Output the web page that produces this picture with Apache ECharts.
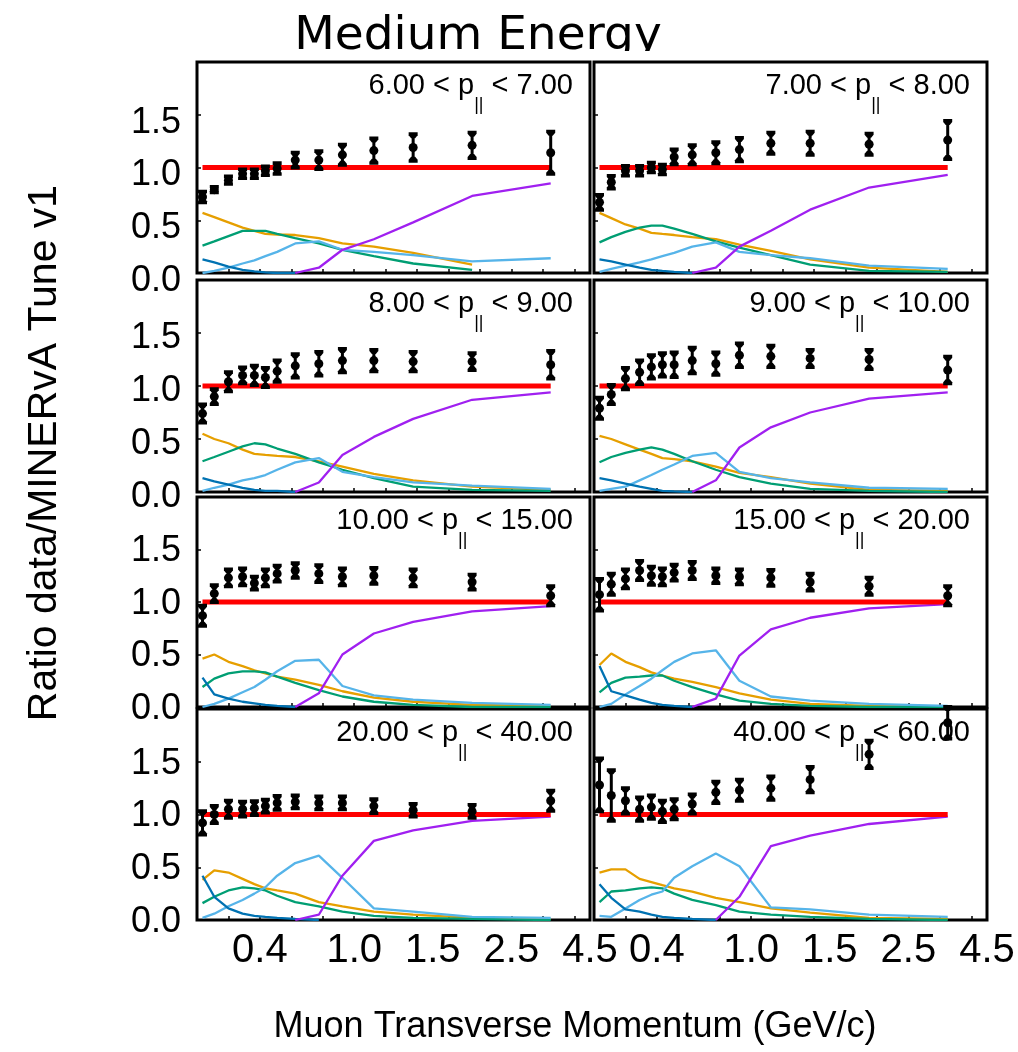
<!DOCTYPE html>
<html>
<head>
<meta charset="utf-8">
<script src="https://cdn.jsdelivr.net/npm/echarts@6/dist/echarts.min.js"></script>
<style>
  html, body { margin: 0; padding: 0; background: #fff; }
  #main { width: 1018px; height: 1052px; }
</style>
</head>
<body>
<div id="main"></div>
<script>
// bin edges as drawn on the axis (1.5-2.5 and 2.5-4.5 GeV/c bins are squeezed)
var axisEdges = [0, 0.07, 0.15, 0.25, 0.33, 0.4, 0.47, 0.55, 0.7, 0.85, 1.0, 1.25, 1.5, 2.0, 2.5];
var xTickPos = [0.4, 1.0, 1.5, 2.0, 2.5];
var xTickText = ['0.4', '1.0', '1.5', '2.5', '4.5'];
var panelRanges = [[6, 7], [7, 8], [8, 9], [9, 10], [10, 15], [15, 20], [20, 40], [40, 60]];

// data / MINERvA Tune v1
var ratioVal = [
  [0.72, 0.79, 0.88, 0.94, 0.94, 0.97, 0.99, 1.07, 1.07, 1.12, 1.16, 1.19, 1.21, 1.14],
  [0.67, 0.86, 0.97, 0.97, 1.00, 0.98, 1.10, 1.12, 1.14, 1.17, 1.23, 1.23, 1.22, 1.26],
  [0.74, 0.90, 1.04, 1.10, 1.10, 1.08, 1.14, 1.19, 1.21, 1.24, 1.24, 1.23, 1.23, 1.20],
  [0.79, 0.92, 1.07, 1.13, 1.18, 1.20, 1.20, 1.24, 1.21, 1.29, 1.28, 1.26, 1.25, 1.15],
  [0.87, 1.08, 1.23, 1.24, 1.18, 1.23, 1.27, 1.30, 1.27, 1.24, 1.25, 1.23, 1.19, 1.06],
  [1.07, 1.17, 1.22, 1.30, 1.25, 1.24, 1.28, 1.30, 1.25, 1.24, 1.23, 1.19, 1.15, 1.06],
  [0.92, 1.00, 1.05, 1.05, 1.06, 1.08, 1.11, 1.12, 1.11, 1.11, 1.08, 1.04, 1.03, 1.13],
  [1.28, 1.18, 1.13, 1.05, 1.07, 1.03, 1.05, 1.10, 1.21, 1.23, 1.25, 1.33, 1.57, 1.87]
];
var ratioErr = [
  [0.05, 0.025, 0.035, 0.04, 0.04, 0.04, 0.05, 0.07, 0.085, 0.095, 0.115, 0.125, 0.12, 0.20],
  [0.07, 0.06, 0.045, 0.045, 0.045, 0.045, 0.07, 0.09, 0.10, 0.11, 0.10, 0.11, 0.10, 0.18],
  [0.085, 0.07, 0.09, 0.075, 0.09, 0.09, 0.10, 0.11, 0.11, 0.11, 0.10, 0.09, 0.08, 0.13],
  [0.10, 0.09, 0.10, 0.11, 0.11, 0.11, 0.115, 0.12, 0.105, 0.11, 0.10, 0.08, 0.09, 0.125],
  [0.095, 0.08, 0.08, 0.08, 0.06, 0.08, 0.075, 0.07, 0.08, 0.08, 0.075, 0.08, 0.07, 0.09],
  [0.15, 0.10, 0.09, 0.09, 0.085, 0.08, 0.075, 0.08, 0.07, 0.07, 0.075, 0.08, 0.08, 0.09],
  [0.11, 0.08, 0.08, 0.07, 0.065, 0.06, 0.065, 0.06, 0.06, 0.06, 0.065, 0.06, 0.06, 0.095],
  [0.25, 0.24, 0.12, 0.11, 0.11, 0.10, 0.095, 0.09, 0.10, 0.10, 0.11, 0.12, 0.13, 0.15]
];

// model component fractions, one row per panel
var orangeFrac = [
  [0.57, 0.53, 0.48, 0.43, 0.40, 0.37, 0.365, 0.36, 0.33, 0.28, 0.25, 0.19, 0.08, null],
  [0.57, 0.52, 0.46, 0.42, 0.38, 0.37, 0.36, 0.34, 0.32, 0.27, 0.21, 0.13, 0.05, 0.01],
  [0.55, 0.50, 0.46, 0.40, 0.36, 0.35, 0.34, 0.33, 0.29, 0.24, 0.17, 0.11, 0.05, 0.02],
  [0.53, 0.50, 0.45, 0.40, 0.36, 0.32, 0.31, 0.29, 0.24, 0.18, 0.14, 0.08, 0.02, 0.01],
  [0.46, 0.50, 0.43, 0.39, 0.35, 0.32, 0.29, 0.26, 0.21, 0.15, 0.09, 0.05, 0.02, 0.01],
  [0.40, 0.51, 0.43, 0.38, 0.33, 0.30, 0.27, 0.24, 0.19, 0.13, 0.07, 0.03, 0.01, 0.00],
  [0.38, 0.47, 0.45, 0.39, 0.34, 0.30, 0.28, 0.25, 0.17, 0.13, 0.08, 0.05, 0.02, 0.01],
  [0.45, 0.48, 0.48, 0.39, 0.36, 0.33, 0.30, 0.27, 0.21, 0.17, 0.11, 0.07, 0.02, 0.01]
];
var greenFrac = [
  [0.26, 0.30, 0.35, 0.40, 0.40, 0.40, 0.37, 0.33, 0.28, 0.22, 0.16, 0.09, 0.03, null],
  [0.29, 0.34, 0.39, 0.43, 0.45, 0.45, 0.42, 0.37, 0.30, 0.24, 0.17, 0.08, 0.02, 0.01],
  [0.29, 0.33, 0.38, 0.43, 0.46, 0.45, 0.41, 0.36, 0.28, 0.21, 0.13, 0.05, 0.02, 0.01],
  [0.28, 0.33, 0.37, 0.40, 0.42, 0.40, 0.36, 0.29, 0.21, 0.14, 0.08, 0.03, 0.01, 0.00],
  [0.19, 0.27, 0.32, 0.34, 0.34, 0.33, 0.29, 0.23, 0.16, 0.10, 0.05, 0.02, 0.00, 0.00],
  [0.14, 0.23, 0.28, 0.29, 0.30, 0.30, 0.25, 0.19, 0.12, 0.06, 0.03, 0.01, 0.00, 0.00],
  [0.16, 0.22, 0.28, 0.31, 0.30, 0.28, 0.23, 0.17, 0.13, 0.08, 0.04, 0.02, 0.01, 0.00],
  [0.17, 0.27, 0.28, 0.30, 0.31, 0.30, 0.25, 0.19, 0.14, 0.08, 0.05, 0.03, 0.01, 0.00]
];
var skyFrac = [
  [0.00, 0.02, 0.05, 0.09, 0.12, 0.16, 0.20, 0.28, 0.30, 0.22, 0.20, 0.17, 0.11, 0.14],
  [0.01, 0.04, 0.07, 0.10, 0.13, 0.16, 0.19, 0.25, 0.29, 0.20, 0.17, 0.14, 0.07, 0.04],
  [0.01, 0.04, 0.07, 0.11, 0.13, 0.16, 0.21, 0.28, 0.32, 0.19, 0.14, 0.09, 0.06, 0.03],
  [0.01, 0.03, 0.05, 0.11, 0.16, 0.21, 0.26, 0.34, 0.37, 0.19, 0.13, 0.09, 0.04, 0.03],
  [0.00, 0.03, 0.08, 0.14, 0.19, 0.26, 0.34, 0.44, 0.45, 0.20, 0.11, 0.07, 0.04, 0.02],
  [0.00, 0.03, 0.12, 0.20, 0.27, 0.35, 0.43, 0.51, 0.54, 0.25, 0.10, 0.06, 0.03, 0.01],
  [0.02, 0.06, 0.13, 0.19, 0.25, 0.31, 0.42, 0.54, 0.61, 0.40, 0.11, 0.08, 0.03, 0.02],
  [0.04, 0.03, 0.11, 0.19, 0.24, 0.27, 0.40, 0.51, 0.63, 0.51, 0.12, 0.10, 0.05, 0.03]
];
var blueFrac = [
  [0.13, 0.10, 0.06, 0.03, 0.015, 0.005, 0.00, 0.00, null, null, null, null, null, null],
  [0.13, 0.11, 0.08, 0.05, 0.03, 0.02, 0.01, 0.00, null, null, null, null, null, null],
  [0.13, 0.10, 0.07, 0.04, 0.02, 0.01, 0.01, 0.00, null, null, null, null, null, null],
  [0.13, 0.11, 0.08, 0.05, 0.03, 0.01, 0.005, 0.00, null, null, null, null, null, null],
  [0.28, 0.12, 0.08, 0.05, 0.035, 0.02, 0.01, 0.00, null, null, null, null, null, null],
  [0.39, 0.15, 0.11, 0.07, 0.04, 0.02, 0.01, 0.00, null, null, null, null, null, null],
  [0.42, 0.22, 0.11, 0.06, 0.04, 0.03, 0.02, 0.01, 0.00, null, null, null, null, null],
  [0.34, 0.21, 0.10, 0.08, 0.05, 0.03, 0.02, 0.01, 0.00, null, null, null, null, null]
];
var purpleFrac = [
  [null, null, null, null, null, null, null, 0.00, 0.05, 0.22, 0.32, 0.48, 0.73, 0.85],
  [null, null, null, null, null, null, null, 0.00, 0.05, 0.25, 0.40, 0.60, 0.81, 0.93],
  [null, null, null, null, null, null, null, 0.00, 0.09, 0.35, 0.52, 0.69, 0.87, 0.94],
  [null, null, null, null, null, null, null, 0.00, 0.11, 0.42, 0.61, 0.75, 0.88, 0.94],
  [null, null, null, null, null, null, null, 0.00, 0.13, 0.50, 0.70, 0.81, 0.91, 0.96],
  [null, null, null, null, null, null, null, 0.00, 0.08, 0.49, 0.74, 0.85, 0.94, 0.98],
  [null, null, null, null, null, null, null, 0.00, 0.05, 0.42, 0.75, 0.85, 0.94, 0.98],
  [null, null, null, null, null, null, null, null, 0.00, 0.22, 0.70, 0.80, 0.91, 0.98]
];

var lineSets = [
  { vals: orangeFrac, color: '#E69F00' },
  { vals: greenFrac, color: '#009E73' },
  { vals: skyFrac, color: '#56B4E9' },
  { vals: blueFrac, color: '#0072B2' },
  { vals: purpleFrac, color: '#A020F0' }
];

var colLeft = [197, 594];
var colWidth = 393;
var rowTop = [62, 280, 497, 709];
var rowHeight = [211, 212, 210, 211];
var labelShift = [8, 5, 2, 2];
var fontMain = '"Liberation Sans", Arial, sans-serif';

var centers = axisEdges.slice(1).map(function (e, k) { return (axisEdges[k] + e) / 2; });

function errorBar(params, api) {
  var x = api.value(0), y = api.value(1), e = api.value(2);
  var p = api.coord([x, y]);
  var hi = api.coord([x, y + e])[1];
  var lo = api.coord([x, y - e])[1];
  var cx = p[0], hw = 4.5;
  return {
    type: 'group',
    children: [
      { type: 'line', shape: { x1: cx, y1: hi, x2: cx, y2: lo }, style: { stroke: '#000', lineWidth: 3 } },
      { type: 'polygon', shape: { points: [[cx - hw, hi - 2], [cx + hw, hi - 2], [cx + hw, hi + 1], [cx + 2, hi + 4], [cx - 2, hi + 4], [cx - hw, hi + 1]] }, style: { fill: '#000' } },
      { type: 'polygon', shape: { points: [[cx - hw, lo + 2], [cx + hw, lo + 2], [cx + hw, lo - 1], [cx + 2, lo - 4], [cx - 2, lo - 4], [cx - hw, lo - 1]] }, style: { fill: '#000' } },
      { type: 'circle', shape: { cx: cx, cy: p[1], r: 4.5 }, style: { fill: '#000' } }
    ]
  };
}

var grids = [], xAxes = [], yAxes = [], series = [], graphics = [];

panelRanges.forEach(function (rg, i) {
  var row = Math.floor(i / 2), col = i % 2;
  grids.push({
    left: colLeft[col], top: rowTop[row], width: colWidth, height: rowHeight[row],
    show: true, borderColor: '#000', borderWidth: 3
  });
  xAxes.push({
    type: 'value', gridIndex: i, min: 0, max: 2.5, interval: 0.2,
    axisLine: { show: false },
    splitLine: { show: false },
    axisTick: { show: true, inside: true, length: 4, lineStyle: { color: '#000', width: 1.5 } },
    axisLabel: {
      show: row === 3,
      customValues: xTickPos,
      formatter: function (v) {
        var k = xTickPos.findIndex(function (t) { return Math.abs(t - v) < 1e-6; });
        return k < 0 ? '' : xTickText[k];
      },
      fontSize: 40, fontFamily: fontMain, color: '#000', margin: 11
    }
  });
  yAxes.push({
    type: 'value', gridIndex: i, min: 0, max: 2, interval: 0.5,
    axisLine: { show: false },
    splitLine: { show: false },
    axisTick: { show: true, inside: true, length: 4, lineStyle: { color: '#000', width: 1.5 } },
    axisLabel: {
      show: col === 0,
      showMaxLabel: false,
      formatter: function (v) { return v >= 2 ? '' : v.toFixed(1); },
      fontSize: 36, fontFamily: fontMain, color: '#000', margin: 16,
      // labels sit a little below their ticks in the original
      verticalAlign: 'top',
      lineHeight: labelShift[row] * 2
    }
  });

  lineSets.forEach(function (ls) {
    series.push({
      type: 'line', xAxisIndex: i, yAxisIndex: i, silent: true,
      symbol: 'none', z: 3,
      lineStyle: { color: ls.color, width: 2.3 },
      itemStyle: { color: ls.color },
      data: centers.map(function (c, k) { return [c, ls.vals[i][k]]; })
    });
  });

  series.push({
    type: 'line', xAxisIndex: i, yAxisIndex: i, silent: true,
    symbol: 'none', z: 4,
    lineStyle: { color: '#ff0000', width: 5 },
    data: [[centers[0], 1], [centers[centers.length - 1], 1]]
  });

  series.push({
    type: 'custom', xAxisIndex: i, yAxisIndex: i, z: 10,
    renderItem: errorBar,
    encode: { x: 0, y: 1 },
    data: centers.map(function (c, k) { return [c, ratioVal[i][k], ratioErr[i][k]]; })
  });

  graphics.push({
    type: 'text',
    x: colLeft[col] + 376,
    y: rowTop[row] + 9,
    z: 5,
    style: {
      text: '{m|' + rg[0].toFixed(2) + ' < p}{s|||}{m| < ' + rg[1].toFixed(2) + '}',
      align: 'right', verticalAlign: 'top',
      textAlign: 'right', textVerticalAlign: 'top',
      fill: '#000',
      rich: {
        m: { fontSize: 29, fontFamily: fontMain, lineHeight: 30, verticalAlign: 'top', fill: '#000' },
        s: { fontSize: 18, fontFamily: fontMain, lineHeight: 18, verticalAlign: 'top', padding: [25, 0, 0, 0], fill: '#000' }
      }
    }
  });
});

graphics.push({
  type: 'text', x: 478, y: 37, z: 1,
  style: { text: 'Medium Energy', font: '47px "DejaVu Sans"', fill: '#000', align: 'center', verticalAlign: 'middle', textAlign: 'center', textVerticalAlign: 'middle' }
});
graphics.push({
  type: 'rect', z: 2, shape: { x: 190, y: 51, width: 820, height: 9 }, style: { fill: '#fff' }
});
graphics.push({
  type: 'text', x: 45, y: 453, rotation: Math.PI / 2, z: 1,
  style: { text: 'Ratio data/MINERvA Tune v1', font: '41px ' + fontMain, fill: '#000', align: 'center', verticalAlign: 'middle', textAlign: 'center', textVerticalAlign: 'middle' }
});
graphics.push({
  type: 'text', x: 575, y: 1027, z: 1,
  style: { text: 'Muon Transverse Momentum (GeV/c)', font: '36px ' + fontMain, fill: '#000', align: 'center', verticalAlign: 'middle', textAlign: 'center', textVerticalAlign: 'middle' }
});

var chart = echarts.init(document.getElementById('main'), null, { renderer: 'canvas' });
chart.setOption({
  animation: false,
  backgroundColor: '#fff',
  grid: grids,
  xAxis: xAxes,
  yAxis: yAxes,
  series: series,
  graphic: graphics
});
</script>
</body>
</html>
